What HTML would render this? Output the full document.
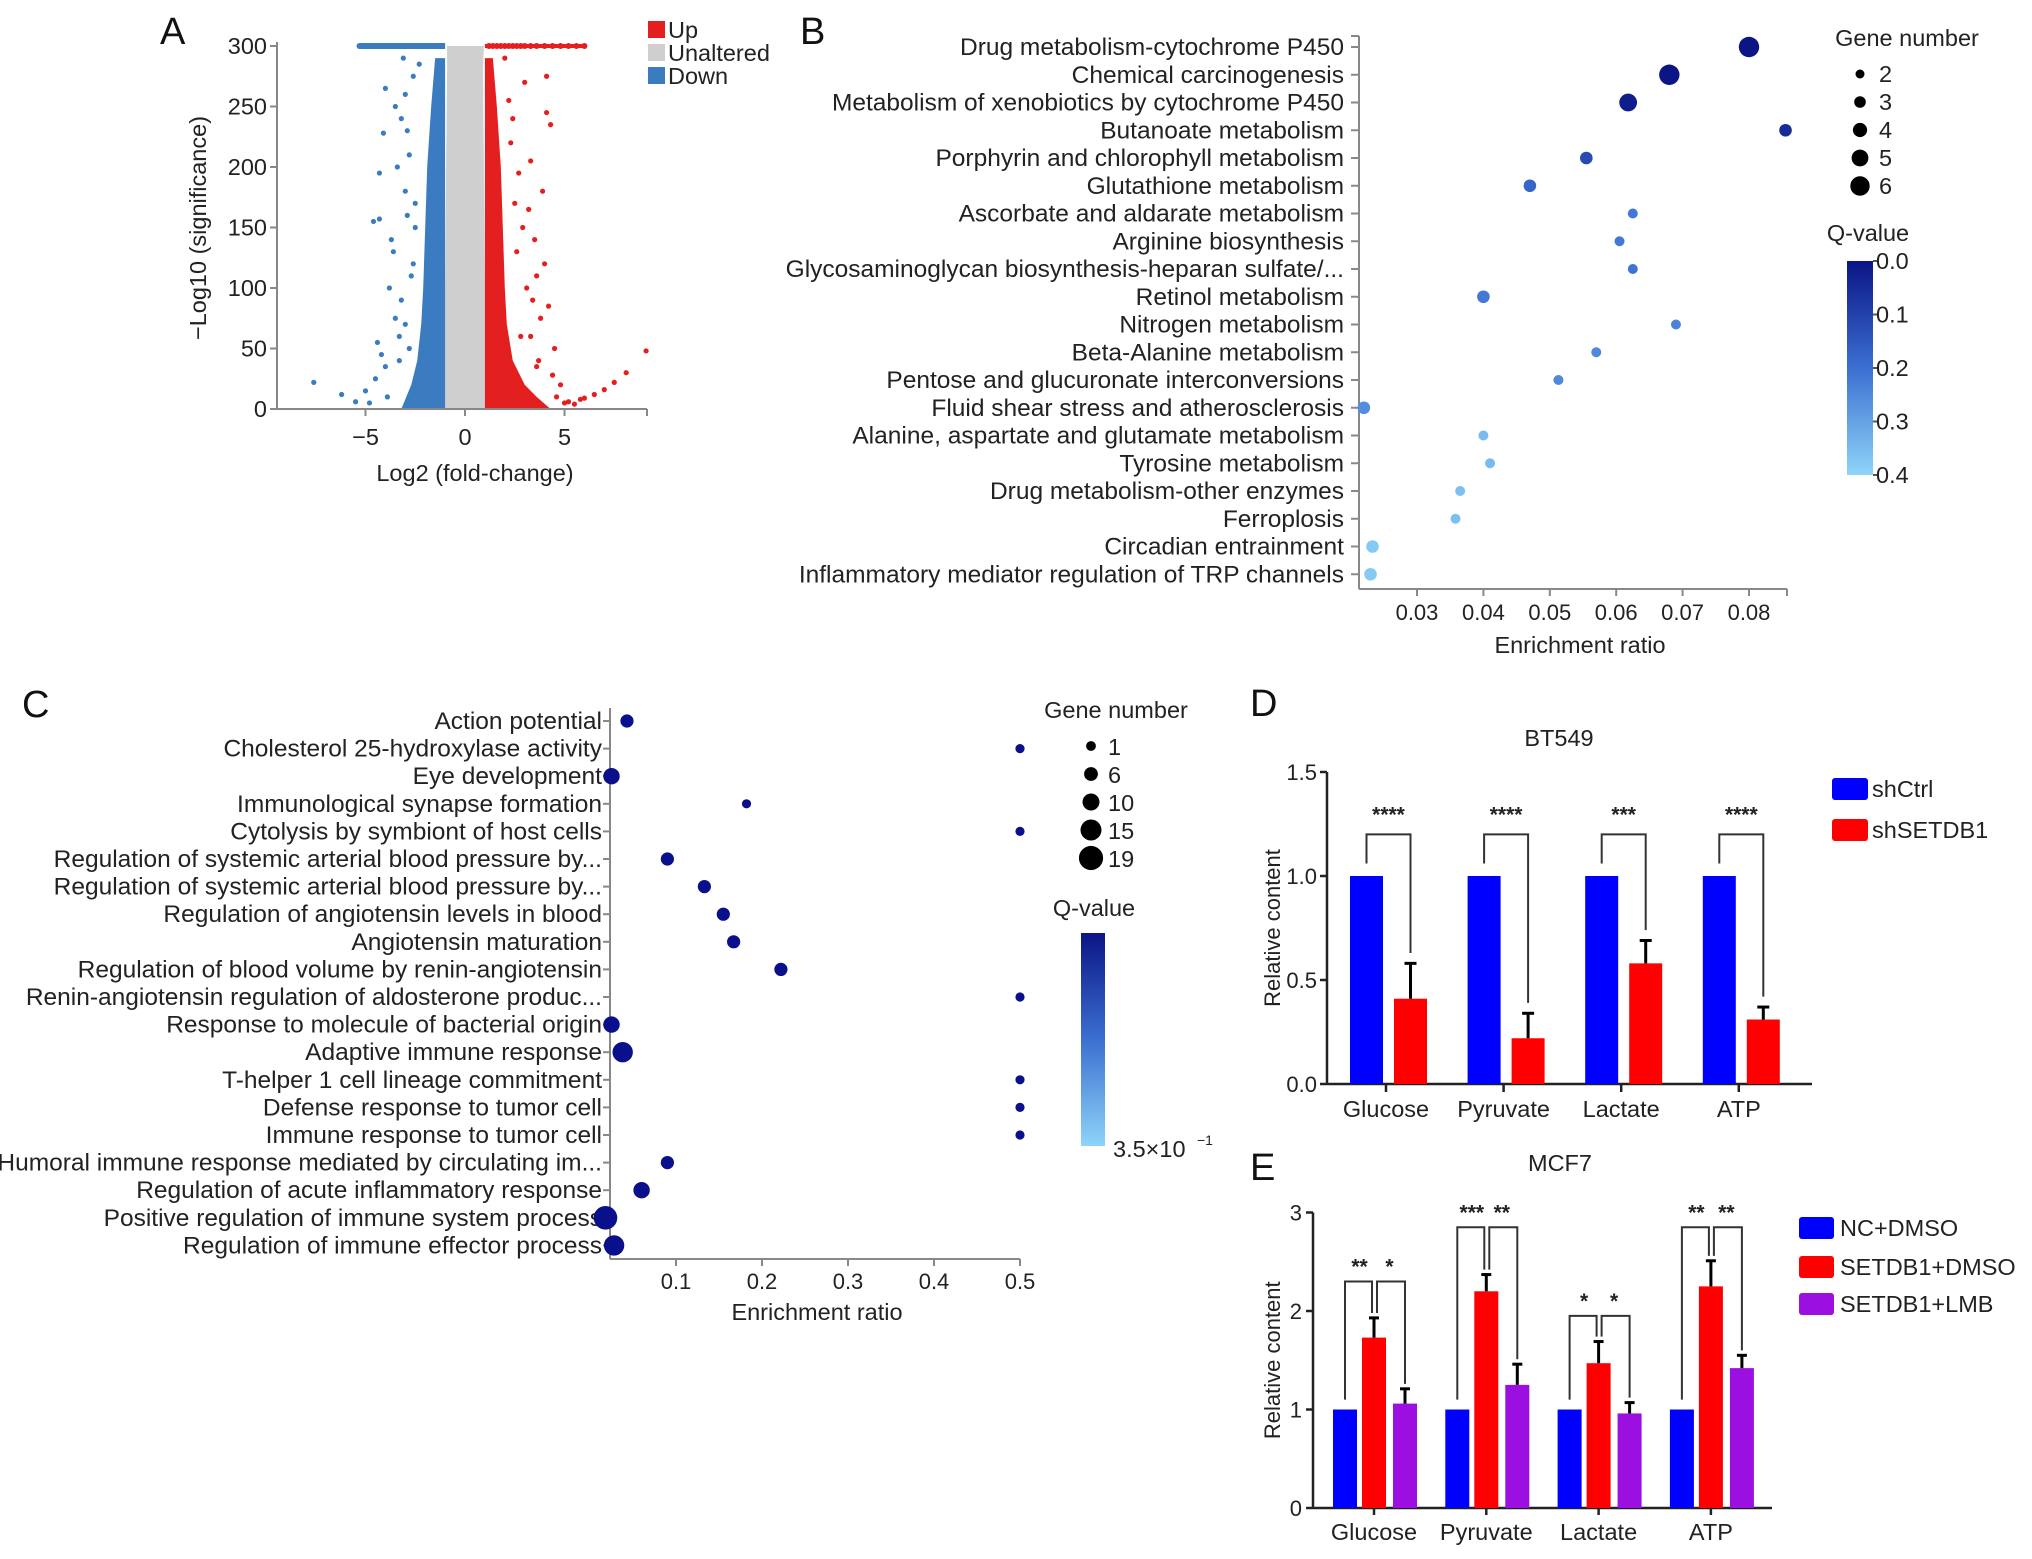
<!DOCTYPE html>
<html><head><meta charset="utf-8"><style>
html,body{margin:0;padding:0;background:#fff}
svg{display:block;font-family:"Liberation Sans",Arial,sans-serif}
</style></head><body>
<svg id="fig" width="2032" height="1559" viewBox="0 0 2032 1559" xmlns="http://www.w3.org/2000/svg">
<g id="A"></g>
<g id="B"></g>
<g id="C"></g>
<g id="D"></g>
<g id="E"></g>
</svg>
<script>
// ---------- Panel A data ----------
const volcanoXTicks = [-5, 0, 5];
const volcanoYTicks = [0, 50, 100, 150, 200, 250, 300];
const grayBandY = [0, 100, 200, 280, 300];
const grayBandLeft = [-1, -1, -0.95, -0.9, -0.9];
const grayBandRight = [1, 1, 0.95, 0.9, 0.95];
const blueBandY = [0, 20, 40, 70, 100, 150, 200, 250, 290];
const blueBandLeft = [-3.2, -2.7, -2.4, -2.2, -2.1, -2.0, -1.9, -1.7, -1.5];
const redBandY = [0, 10, 20, 40, 70, 100, 150, 200, 250, 290];
const redBandRight = [4.3, 3.6, 3.0, 2.4, 2.1, 2.0, 1.9, 1.8, 1.6, 1.4];
const blueOutX = [-7.6,-6.2,-5.5,-5,-4.5,-4.4,-4.2,-4.6,-4.3,-4.3,-4.1,-4,-3.5,-3.2,-3.6,-3.8,-3.2,-3,-3.5,-3,-2.8,-2.9,-2.6,-3.3,-3.9,-4.8,-2.6,-2.3,-3.1,-2.4,-3.4,-3.7,-2.7,-2.5,-4.0,-3.0,-2.9,-3.3,-2.8,-2.5];
const blueOutY = [22,12,6,15,25,55,45,155,157,195,228,265,250,240,130,100,90,70,75,180,210,160,120,40,10,5,275,285,290,30,200,140,110,170,35,260,230,60,50,150];
const redOutX = [9.1,8.1,7.5,6.5,5.8,5,4.6,4.1,4.3,4.1,3.9,3.3,2.7,3.2,2.9,3.5,4,3.6,3.1,2.6,4.2,3.8,3.3,4.5,2.4,2.2,3,2,2.3,3.6,5.5,6,7,4.8,3.4,2.8,2.5,3.7,4.4,5.2];
const redOutY = [48,30,22,12,8,5,10,275,235,245,180,205,195,165,150,140,120,110,100,130,85,75,60,50,240,255,270,290,220,35,4,9,16,20,90,60,170,40,28,6];
const topRowBlue = [-5.3,-4.9,-4.5,-4.2,-4,-3.8,-3.6,-3.4,-3.2,-3,-2.8,-2.6,-2.4,-2.2,-2,-1.8,-1.6,-1.4,-1.2];
const topRowRed = [1.2,1.4,1.6,1.8,2,2.2,2.4,2.6,2.8,3,3.3,3.6,4,4.4,4.8,5.2,5.6,6];

// ---------- Panel B data ----------
const keggTerms = ["Drug metabolism-cytochrome P450","Chemical carcinogenesis","Metabolism of xenobiotics by cytochrome P450","Butanoate metabolism","Porphyrin and chlorophyll metabolism","Glutathione metabolism","Ascorbate and aldarate metabolism","Arginine biosynthesis","Glycosaminoglycan biosynthesis-heparan sulfate/...","Retinol metabolism","Nitrogen metabolism","Beta-Alanine metabolism","Pentose and glucuronate interconversions","Fluid shear stress and atherosclerosis","Alanine, aspartate and glutamate metabolism","Tyrosine metabolism","Drug metabolism-other enzymes","Ferroplosis","Circadian entrainment","Inflammatory mediator regulation of TRP channels"];
const keggRatio = [0.080,0.068,0.0618,0.0855,0.0555,0.047,0.0625,0.0605,0.0625,0.040,0.069,0.057,0.0513,0.022,0.040,0.041,0.0365,0.0358,0.0233,0.023];
const keggQ = [0.0,0.0,0.02,0.05,0.12,0.18,0.22,0.22,0.21,0.22,0.24,0.25,0.25,0.26,0.35,0.35,0.36,0.36,0.38,0.38];
const keggGenes = [6,6,5,3,3,3,2,2,2,3,2,2,2,3,2,2,2,2,3,3];
const keggXTicks = [0.03,0.04,0.05,0.06,0.07,0.08];
const keggSizeLegend = [2,3,4,5,6];
const keggQTicks = [0.0,0.1,0.2,0.3,0.4];

// ---------- Panel C data ----------
const goTerms = ["Action potential","Cholesterol 25-hydroxylase activity","Eye development","Immunological synapse formation","Cytolysis by symbiont of host cells","Regulation of systemic arterial blood pressure by...","Regulation of systemic arterial blood pressure by...","Regulation of angiotensin levels in blood","Angiotensin maturation","Regulation of blood volume by renin-angiotensin","Renin-angiotensin regulation of aldosterone produc...","Response to molecule of bacterial origin","Adaptive immune response","T-helper 1 cell lineage commitment","Defense response to tumor cell","Immune response to tumor cell","Humoral immune response mediated by circulating im...","Regulation of acute inflammatory response","Positive regulation of immune system process","Regulation of immune effector process"];
const goRatio = [0.043,0.5,0.025,0.182,0.5,0.09,0.133,0.155,0.167,0.222,0.5,0.025,0.038,0.5,0.5,0.5,0.09,0.06,0.018,0.028];
const goGenes = [6,1,10,1,1,6,6,6,6,6,1,10,15,1,1,1,6,10,19,15];
const goXTicks = [0.1,0.2,0.3,0.4,0.5];
const goSizeLegend = [1,6,10,15,19];

// ---------- Panel D data ----------
const dCats = ["Glucose","Pyruvate","Lactate","ATP"];
const dCtrl = [1,1,1,1];
const dSh = [0.41,0.22,0.58,0.31];
const dShErr = [0.17,0.12,0.11,0.06];
const dStars = ["****","****","***","****"];
const dYTicks = [0.0,0.5,1.0,1.5];

// ---------- Panel E data ----------
const eCats = ["Glucose","Pyruvate","Lactate","ATP"];
const eNC = [1,1,1,1];
const eSet = [1.73,2.2,1.47,2.25];
const eSetErr = [0.2,0.17,0.22,0.26];
const eLmb = [1.06,1.25,0.96,1.42];
const eLmbErr = [0.15,0.21,0.11,0.13];
const eBracketLevel = [2.3,2.85,1.95,2.85];
const eStars1 = ["**","***","*","**"];
const eStars2 = ["*","**","*","**"];
const eYTicks = [0,1,2,3];

const FS = 23.5, FT = 22, FL = 24.5;
const NS = "http://www.w3.org/2000/svg";
function mk(parent, tag, attrs, text){
  const el = document.createElementNS(NS, tag);
  for (const k in attrs) el.setAttribute(k, attrs[k]);
  if (text !== undefined) el.textContent = text;
  parent.appendChild(el);
  return el;
}
function txt(parent, x, y, s, size, anchor, name, extra){
  const t = mk(parent, "text", Object.assign({x:x, y:y, "font-size":size, "text-anchor":anchor||"start", fill:"#222"}, extra||{}), s);
  
  
  return t;
}
function line(parent, x1,y1,x2,y2, name, w, c){
  const l = mk(parent, "line", {x1:x1,y1:y1,x2:x2,y2:y2,stroke:c||"#777","stroke-width":w||2});
  
  
  return l;
}

// ================= Panel A =================
(function(){
  const g = document.getElementById("A");
  const xs = v => 465 + v*19.9;
  const ys = v => 409 - v*1.21;
  txt(g, 160, 44, "A", 38, "start", "panel-label-a", {fill:"#111"});
  function band(ysArr, left, right, color, name){
    let pts = [];
    for (let i=0;i<ysArr.length;i++) pts.push(xs(left[i])+","+ys(ysArr[i]));
    for (let i=ysArr.length-1;i>=0;i--) pts.push(xs(right[i])+","+ys(ysArr[i]));
    const p = mk(g, "polygon", {points:pts.join(" "), fill:color});
    
    
  }
  band(grayBandY, grayBandLeft, grayBandRight, "#cfcfcf", "unaltered-points");
  band(blueBandY, blueBandLeft, blueBandY.map(()=>-1), "#3b7cc0", "down-points-dense");
  band(redBandY, redBandY.map(()=>1), redBandRight, "#e41f1f", "up-points-dense");
  for (let i=0;i<blueOutX.length;i++){
    const c = mk(g,"circle",{cx:xs(blueOutX[i]),cy:ys(blueOutY[i]),r:2.6,fill:"#3b7cc0"});
    
    
  }
  for (let i=0;i<redOutX.length;i++){
    const c = mk(g,"circle",{cx:xs(redOutX[i]),cy:ys(redOutY[i]),r:2.6,fill:"#e41f1f"});
    
    
  }
  const rb = mk(g,"rect",{x:xs(-5.3),y:ys(300)-3,width:xs(-1)-xs(-5.3),height:6,fill:"#3b7cc0"});
  
  
  for (let i=0;i<topRowBlue.length;i++){
    const c = mk(g,"circle",{cx:xs(topRowBlue[i]),cy:ys(300),r:3,fill:"#3b7cc0"});
    
    
  }
  const rr = mk(g,"rect",{x:xs(1),y:ys(300)-2,width:xs(6)-xs(1),height:4,fill:"#e41f1f"});
  
  
  for (let i=0;i<topRowRed.length;i++){
    const c = mk(g,"circle",{cx:xs(topRowRed[i]),cy:ys(300),r:3,fill:"#e41f1f"});
    
    
  }
  line(g, 277, ys(300)-4, 277, ys(0), "y-axis", 2, "#888");
  line(g, 277, ys(0), 647, ys(0), "x-axis", 2, "#888");
  volcanoYTicks.forEach(v=>{
    line(g, 270, ys(v), 277, ys(v), "y-tick", 2, "#888");
    txt(g, 267, ys(v)+8, String(v), FS, "end", "y-tick-label");
  });
  volcanoXTicks.forEach(v=>{
    line(g, xs(v), ys(0), xs(v), ys(0)+7, "x-tick", 2, "#888");
    txt(g, xs(v), ys(0)+36, v<0?"\u2212"+Math.abs(v):String(v), FS, "middle", "x-tick-label");
  });
  line(g, 647, ys(0), 647, ys(0)+7, "x-tick", 2, "#888");
  txt(g, 475, 481, "Log2 (fold-change)", FS, "middle", "x-axis-title");
  txt(g, 0, 0, "\u2212Log10 (significance)", FS, "middle", "y-axis-title", {transform:"translate(206,228) rotate(-90)"});
  const leg = [["Up","#e41f1f",35],["Unaltered","#cfcfcf",58],["Down","#3b7cc0",81]];
  leg.forEach(l=>{
    const r = mk(g,"rect",{x:648,y:l[2]-14,width:17,height:17,fill:l[1]});
    
    
    txt(g, 668, l[2]+3, l[0], FS, "start", "legend-label-"+l[0].toLowerCase());
  });
})();

function lerp(a,b,t){return Math.round(a+(b-a)*t);}
function qColor(q){
  const stops=[[0,[11,21,133]],[0.2,[59,111,209]],[0.4,[142,212,248]]];
  q=Math.max(0,Math.min(0.4,q));
  let i = q<=0.2?0:1;
  const a=stops[i],b=stops[i+1],t=(q-a[0])/(b[0]-a[0]);
  return "rgb("+lerp(a[1][0],b[1][0],t)+","+lerp(a[1][1],b[1][1],t)+","+lerp(a[1][2],b[1][2],t)+")";
}

// ================= Panel B =================
(function(){
  const g = document.getElementById("B");
  const xs = v => 1417 + (v-0.03)*6640;
  const ys = i => 47 + i*27.75;
  const rs = n => 2.4 + 1.3*n;
  txt(g, 800, 44, "B", 38, "start", "panel-label-b", {fill:"#111"});
  line(g, 1359, 36, 1359, 589, "y-axis", 2, "#888");
  line(g, 1359, 589, 1787, 589, "x-axis", 2, "#888");
  line(g, 1351, 36, 1359, 36, "y-axis-cap", 2, "#888");
  keggTerms.forEach((t,i)=>{
    line(g, 1351, ys(i), 1359, ys(i), "y-tick", 2, "#888");
    txt(g, 1344, ys(i)+8, t, FL, "end", "pathway-label");
  });
  keggXTicks.forEach(v=>{
    line(g, xs(v), 589, xs(v), 596, "x-tick", 2, "#888");
    txt(g, xs(v), 620, v.toFixed(2), FT, "middle", "x-tick-label");
  });
  line(g, 1787, 589, 1787, 596, "x-tick", 2, "#888");
  txt(g, 1580, 653, "Enrichment ratio", FS, "middle", "x-axis-title");
  keggTerms.forEach((t,i)=>{
    const c = mk(g,"circle",{cx:xs(keggRatio[i]),cy:ys(i),r:rs(keggGenes[i]),fill:qColor(keggQ[i])});
    
    
  });
  txt(g, 1907, 46, "Gene number", FS, "middle", "size-legend-title");
  keggSizeLegend.forEach((n,i)=>{
    const y = 74 + i*28;
    const c = mk(g,"circle",{cx:1860,cy:y,r:rs(n)-0.5,fill:"#000"});
    
    
    txt(g, 1879, y+8, String(n), FS, "start", "size-legend-label");
  });
  txt(g, 1868, 241, "Q-value", FS, "middle", "color-legend-title");
  const grad = mk(g,"linearGradient",{id:"gB",x1:0,y1:0,x2:0,y2:1});
  mk(grad,"stop",{offset:"0",  "stop-color":qColor(0)});
  mk(grad,"stop",{offset:"0.5","stop-color":qColor(0.2)});
  mk(grad,"stop",{offset:"1",  "stop-color":qColor(0.4)});
  const cb = mk(g,"rect",{x:1847,y:261,width:26,height:214,fill:"url(#gB)"});
  
  
  keggQTicks.forEach(q=>{
    const y = 261 + q/0.4*214;
    line(g, 1873, y, 1878, y, "colorbar-tick", 2, "#555");
    txt(g, 1876, y+8, q.toFixed(1), FS, "start", "colorbar-label");
  });
})();

// ================= Panel C =================
(function(){
  const g = document.getElementById("C");
  const xs = v => 676 + (v-0.1)*860;
  const ys = i => 721 + i*27.6;
  const rs = n => 4.6 + 0.4*(n-1);
  txt(g, 22, 717, "C", 38, "start", "panel-label-c", {fill:"#111"});
  line(g, 610, 708, 610, 1259, "y-axis", 2, "#888");
  line(g, 610, 1259, 1020, 1259, "x-axis", 2, "#888");
  goTerms.forEach((t,i)=>{
    line(g, 603, ys(i), 610, ys(i), "y-tick", 2, "#888");
    txt(g, 602, ys(i)+8, t, FL, "end", "go-term-label");
  });
  goXTicks.forEach(v=>{
    line(g, xs(v), 1259, xs(v), 1266, "x-tick", 2, "#888");
    txt(g, xs(v), 1289, v.toFixed(1), FT, "middle", "x-tick-label");
  });
  txt(g, 817, 1320, "Enrichment ratio", FS, "middle", "x-axis-title");
  goTerms.forEach((t,i)=>{
    const c = mk(g,"circle",{cx:xs(goRatio[i]),cy:ys(i),r:rs(goGenes[i]),fill:"#0a0f8c"});
    
    
  });
  txt(g, 1116, 718, "Gene number", FS, "middle", "size-legend-title");
  goSizeLegend.forEach((n,i)=>{
    const y = 746 + i*28;
    const c = mk(g,"circle",{cx:1091,cy:y,r:rs(n)+0.3,fill:"#000"});
    
    
    txt(g, 1108, y+9, String(n), FS, "start", "size-legend-label");
  });
  txt(g, 1094, 916, "Q-value", FS, "middle", "color-legend-title");
  const grad = mk(g,"linearGradient",{id:"gC",x1:0,y1:0,x2:0,y2:1});
  mk(grad,"stop",{offset:"0","stop-color":"#0b1585"});
  mk(grad,"stop",{offset:"0.5","stop-color":"#3b6fd1"});
  mk(grad,"stop",{offset:"1","stop-color":"#8ed4f8"});
  const cb = mk(g,"rect",{x:1081,y:933,width:24,height:213,fill:"url(#gC)"});
  
  
  txt(g, 1113, 1157, "3.5\u00d710", FS, "start", "colorbar-label");
  txt(g, 1197, 1145, "\u22121", 14, "start", "colorbar-label-exponent");
})();

// ================= Panel D =================
(function(){
  const g = document.getElementById("D");
  const y0 = 1084, per = 208;
  const ys = v => y0 - v*per;
  const gx = i => 1386 + i*117.6;
  const bw = 33;
  txt(g, 1250, 716, "D", 38, "start", "panel-label-d", {fill:"#111"});
  txt(g, 1559, 746, "BT549", FS, "middle", "chart-title-bt549");
  line(g, 1327, ys(1.5), 1327, y0, "y-axis", 2.5, "#222");
  line(g, 1327, y0, 1812, y0, "x-axis", 2.5, "#222");
  dYTicks.forEach(v=>{
    line(g, 1320, ys(v), 1327, ys(v), "y-tick", 2.5, "#222");
    txt(g, 1317, ys(v)+8, v.toFixed(1), FT, "end", "y-tick-label");
  });
  txt(g, 0, 0, "Relative content", FT, "middle", "y-axis-title", {transform:"translate(1280,"+ys(0.75)+") rotate(-90)"});
  dCats.forEach((c,i)=>{
    const cx = gx(i);
    line(g, cx, y0, cx, y0+8, "x-tick", 2.5, "#222");
    txt(g, cx, y0+33, c, FS, "middle", "x-tick-label");
    const b1 = mk(g,"rect",{x:cx-bw-3,y:ys(dCtrl[i]),width:bw,height:dCtrl[i]*per,fill:"#0000ff"});
    
    
    const b2 = mk(g,"rect",{x:cx+8,y:ys(dSh[i]),width:bw,height:dSh[i]*per,fill:"#ff0000"});
    
    
    const rc = cx+8+bw/2;
    line(g, rc, ys(dSh[i]), rc, ys(dSh[i]+dShErr[i]), "error-bar", 3, "#000");
    line(g, rc-6, ys(dSh[i]+dShErr[i]), rc+6, ys(dSh[i]+dShErr[i]), "error-cap", 3, "#000");
    const bc = cx-bw/2-3, top = ys(1.2);
    const br = mk(g,"polyline",{points:bc+","+ys(1.06)+" "+bc+","+top+" "+rc+","+top+" "+rc+","+ys(dSh[i]+dShErr[i]+0.05),fill:"none",stroke:"#333","stroke-width":2});
    
    
    txt(g, (bc+rc)/2, top-13, dStars[i], 21, "middle", "significance-stars", {"font-weight":"bold"});
  });
  [["shCtrl","#0000ff",789],["shSETDB1","#ff0000",830]].forEach(l=>{
    const r = mk(g,"rect",{x:1832,y:l[2]-11,width:36,height:22,rx:3,fill:l[1]});
    
    
    txt(g, 1872, l[2]+8, l[0], FS, "start", "legend-label");
  });
})();

// ================= Panel E =================
(function(){
  const g = document.getElementById("E");
  const y0 = 1508, per = 98.5;
  const ys = v => y0 - v*per;
  const gx = i => 1374 + i*112.3;
  const bw = 24;
  txt(g, 1250, 1180, "E", 38, "start", "panel-label-e", {fill:"#111"});
  txt(g, 1560, 1171, "MCF7", FS, "middle", "chart-title-mcf7");
  line(g, 1313, ys(3), 1313, y0, "y-axis", 2.5, "#222");
  line(g, 1313, y0, 1772, y0, "x-axis", 2.5, "#222");
  eYTicks.forEach(v=>{
    line(g, 1306, ys(v), 1313, ys(v), "y-tick", 2.5, "#222");
    txt(g, 1302, ys(v)+8, String(v), FT, "end", "y-tick-label");
  });
  txt(g, 0, 0, "Relative content", FT, "middle", "y-axis-title", {transform:"translate(1280,"+ys(1.5)+") rotate(-90)"});
  eCats.forEach((c,i)=>{
    const cx = gx(i);
    line(g, cx, y0, cx, y0+7, "x-tick", 2.5, "#222");
    txt(g, cx, y0+32, c, FS, "middle", "x-tick-label");
    const xb = cx-41, xr = cx-12, xp = cx+19;
    const b1 = mk(g,"rect",{x:xb,y:ys(eNC[i]),width:bw,height:eNC[i]*per,fill:"#0000ff"});
    
    
    const b2 = mk(g,"rect",{x:xr,y:ys(eSet[i]),width:bw,height:eSet[i]*per,fill:"#ff0000"});
    
    
    const b3 = mk(g,"rect",{x:xp,y:ys(eLmb[i]),width:bw,height:eLmb[i]*per,fill:"#9b0fe0"});
    
    
    const rc = xr+bw/2, pc = xp+bw/2, bc = xb+bw/2;
    line(g, rc, ys(eSet[i]), rc, ys(eSet[i]+eSetErr[i]), "error-bar", 3, "#000");
    line(g, rc-5, ys(eSet[i]+eSetErr[i]), rc+5, ys(eSet[i]+eSetErr[i]), "error-cap", 3, "#000");
    line(g, pc, ys(eLmb[i]), pc, ys(eLmb[i]+eLmbErr[i]), "error-bar", 3, "#000");
    line(g, pc-5, ys(eLmb[i]+eLmbErr[i]), pc+5, ys(eLmb[i]+eLmbErr[i]), "error-cap", 3, "#000");
    const top = ys(eBracketLevel[i]);
    const redTop = ys(eSet[i]+eSetErr[i]+0.05);
    const b1p = mk(g,"polyline",{points:bc+","+ys(1.1)+" "+bc+","+top+" "+(rc-2)+","+top+" "+(rc-2)+","+redTop,fill:"none",stroke:"#333","stroke-width":2});
    
    
    const b2p = mk(g,"polyline",{points:(rc+3)+","+redTop+" "+(rc+3)+","+top+" "+pc+","+top+" "+pc+","+ys(eLmb[i]+eLmbErr[i]+0.05),fill:"none",stroke:"#333","stroke-width":2});
    
    
    txt(g, (bc+rc)/2, top-8, eStars1[i], 21, "middle", "significance-stars", {"font-weight":"bold"});
    txt(g, (rc+pc)/2, top-8, eStars2[i], 21, "middle", "significance-stars", {"font-weight":"bold"});
  });
  [["NC+DMSO","#0000ff",1228],["SETDB1+DMSO","#ff0000",1267],["SETDB1+LMB","#9b0fe0",1304]].forEach(l=>{
    const r = mk(g,"rect",{x:1799,y:l[2]-11,width:35,height:22,rx:3,fill:l[1]});
    
    
    txt(g, 1840, l[2]+8, l[0], FS, "start", "legend-label");
  });
})();
</script>
</body></html>
